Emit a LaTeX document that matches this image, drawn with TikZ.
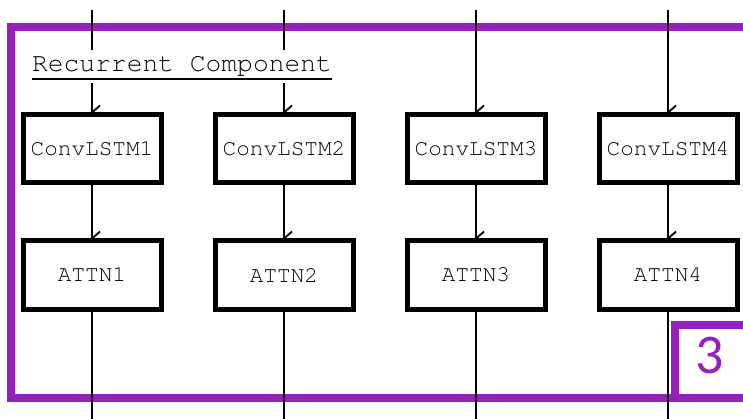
\documentclass[tikz,border=0pt]{standalone}
\usepackage{fontspec}
\setmonofont{TeX Gyre Cursor}
\setsansfont{Carlito}
\usetikzlibrary{arrows.meta}
\definecolor{framepurple}{RGB}{150,32,190}
\tikzset{
  unitbox/.style={draw=black, line width=5pt, fill=white, minimum width=138pt,
    inner sep=0pt, outer sep=0pt, font=\fontsize{22.7}{24}\ttfamily},
  convbox/.style={unitbox, minimum height=68pt},
  attnbox/.style={unitbox, minimum height=69pt},
  flow/.style={line width=1.8pt, black},
  barb/.style={flow, -{Straight Barb[left, length=7pt, width=16pt, line width=1.8pt]}},
  frameline/.style={draw=framepurple, line width=8pt},
}
\begin{document}
\begin{tikzpicture}[x=1pt, y=-1pt]
  \useasboundingbox[fill=white] (0,0) rectangle (743,419);

  % outer frame of the recurrent component and its index tab
  \draw[frameline] (11,27) rectangle (747,397.5);
  \draw[frameline, fill=white] (674.5,325) rectangle (747,397.5);
  \node[text=framepurple, font=\fontsize{56}{60}\sffamily, anchor=center] (idx) at (710,356) {3};

  % one column per time step
  \foreach \i/\x in {1/92, 2/284, 3/476, 4/668} {
    \coordinate (top\i) at (\x,10);
    \coordinate (bot\i) at (\x,419);
    \node[convbox] (conv\i) at (\x,148.5) {ConvLSTM\i};
    \node[attnbox] (attn\i) at (\x,275) {ATTN\i};
    \draw[barb] (top\i) -- (conv\i.north);
    \draw[barb] (conv\i.south) -- (attn\i.north);
    \draw[flow] (attn\i.south) -- (bot\i);
  }

  % underlined title on a white patch over the connectors
  \node[fill=white, anchor=base, inner xsep=0pt, inner ysep=2pt,
        text height=20pt, text depth=9pt,
        font=\fontsize{26.3}{28}\ttfamily] (title) at (182,72) {Recurrent Component};
  \draw[line width=1.5pt] ([yshift=-7pt]title.base west) -- ([yshift=-7pt]title.base east);
\end{tikzpicture}
\end{document}
